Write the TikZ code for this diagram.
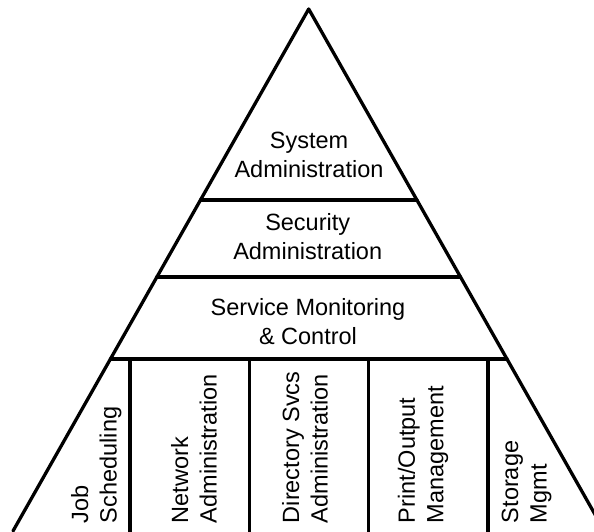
\documentclass[tikz,border=0pt]{standalone}
\usepackage{fontspec}
\setmainfont{Liberation Sans}
\usetikzlibrary{calc}
\begin{document}
\begin{tikzpicture}[x=1pt,y=-1pt,
  edge/.style={line width=3.3pt, line cap=round, line join=round},
  lbl/.style={inner sep=0pt, align=center, anchor=base, font=\fontsize{23.5}{28.5}\selectfont},
  vlbl/.style={inner sep=0pt, align=left, anchor=base west, rotate=90, font=\fontsize{23.5}{28.5}\selectfont}]
\useasboundingbox (0,0) rectangle (594,531);
\clip (0,0) rectangle (594,531);
% triangle
\coordinate (apex) at (308.7,9);
\coordinate (bl) at (13,531);
\coordinate (br) at (604.4,531);
\draw[edge] (bl) -- (apex) -- (br);
% horizontal dividers
\coordinate (h1l) at ($(apex)!0.3659!(bl)$);
\coordinate (h1r) at ($(apex)!0.3659!(br)$);
\coordinate (h2l) at ($(apex)!0.5134!(bl)$);
\coordinate (h2r) at ($(apex)!0.5134!(br)$);
\coordinate (h3l) at ($(apex)!0.6705!(bl)$);
\coordinate (h3r) at ($(apex)!0.6705!(br)$);
\draw[edge] (h1l) -- (h1r);
\draw[edge] (h2l) -- (h2r);
\draw[edge] (h3l) -- (h3r);
% vertical dividers
\foreach \i/\x in {1/130,2/249.3,3/368.3,4/488}{
  \coordinate (v\i t) at (\x,359);
  \coordinate (v\i b) at (\x,540);
  \draw[edge] (v\i t) -- (v\i b);
}
% labels (anchor base = baseline of last line)
\node[lbl] (sys) at (309,177.3) {System\\Administration};
\node[lbl] (sec) at (307.7,259.3) {Security\\Administration};
\node[lbl] (svc) at (308,344) {Service Monitoring\\\& Control};
\node[vlbl] (job) at (116.7,523.3) {Job\\Scheduling};
\node[vlbl] (net) at (216.7,523.3) {Network\\Administration};
\node[vlbl] (dir) at (327.7,523.3) {Directory Svcs\\Administration};
\node[vlbl] (prt) at (443.3,523.3) {Print/Output\\Management};
\node[vlbl] (sto) at (546.7,523.3) {Storage\\Mgmt};
\end{tikzpicture}
\end{document}
